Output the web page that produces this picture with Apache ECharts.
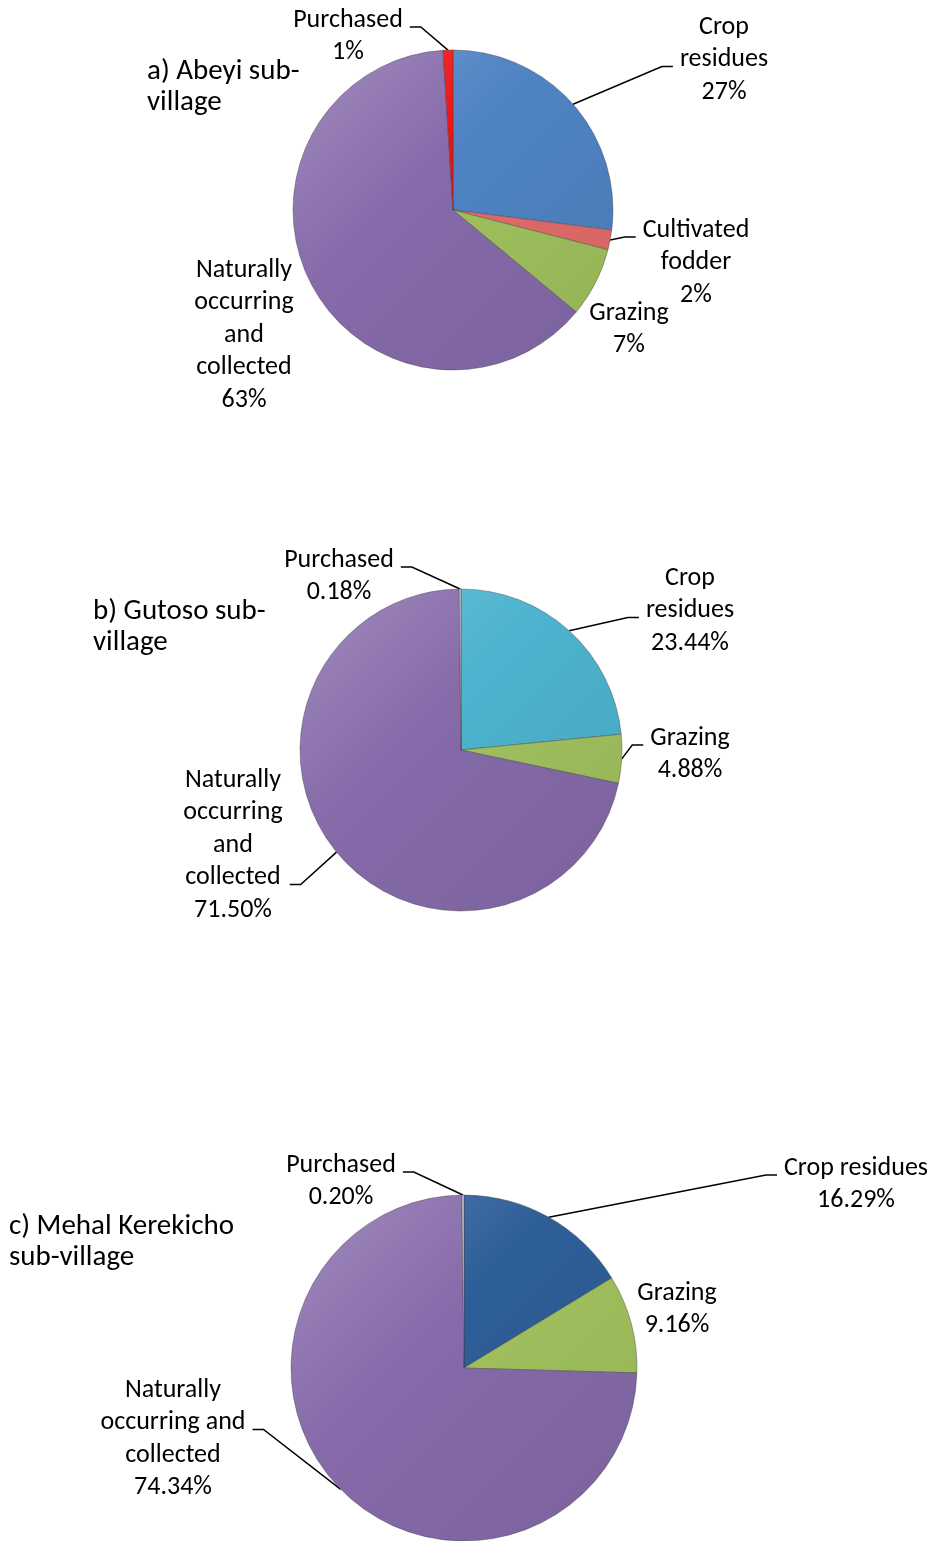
<!DOCTYPE html>
<html>
<head>
<meta charset="utf-8">
<script src="https://cdn.jsdelivr.net/npm/echarts@6/dist/echarts.min.js"></script>
<style>
  html, body { margin: 0; padding: 0; background: #fff; }
  #chart { width: 934px; height: 1541px; }
</style>
</head>
<body>
<div id="chart"></div>
<script>
// share of feed sources (%) per sub-village
const namesA = ['Crop residues', 'Cultivated fodder', 'Grazing', 'Naturally occurring and collected', 'Purchased'];
const valuesA = [27, 2, 7, 63, 1];
const namesB = ['Crop residues', 'Grazing', 'Naturally occurring and collected', 'Purchased'];
const valuesB = [23.44, 4.88, 71.50, 0.18];
const namesC = ['Crop residues', 'Grazing', 'Naturally occurring and collected', 'Purchased'];
const valuesC = [16.29, 9.16, 74.34, 0.20];

// label text as wrapped in the figure
const wrapA = ['Crop\nresidues', 'Cultivated\nfodder', 'Grazing', 'Naturally\noccurring\nand\ncollected', 'Purchased'];
const wrapB = ['Crop\nresidues', 'Grazing', 'Naturally\noccurring\nand\ncollected', 'Purchased'];
const wrapC = ['Crop residues', 'Grazing', 'Naturally\noccurring and\ncollected', 'Purchased'];

const titles = ['a) Abeyi sub-\nvillage', 'b) Gutoso sub-\nvillage', 'c) Mehal Kerekicho\nsub-village'];

const FONT = 'Carlito, Calibri, Lato, sans-serif';
const LINE_H = 32.5;

const colorsA = ['#4F83C4', '#E36C6A', '#A1C15E', '#866AAA', '#EE1111'];
const colorsB = ['#4DB3CE', '#A1C15E', '#866AAA', '#C4C4C4'];
const colorsC = ['#2E5E98', '#A1C15E', '#866AAA', '#C4C4C4'];

// pie geometry
const pies = [
  { center: [453, 210], r: 160 },
  { center: [461, 750], r: 161 },
  { center: [464, 1368], r: 173 }
];

// where each label block sits: centre x, first line centre y,
// which text line the leader attaches to (-1 none) and on which side
const spots = [
  [
    { cx: 724, y0: 27, line: 1, side: 'left' },
    { cx: 696, y0: 230, line: 0, side: 'left' },
    { cx: 629, y0: 313, line: -1 },
    { cx: 244, y0: 270, line: -1 },
    { cx: 348, y0: 20, line: 0, side: 'right' }
  ],
  [
    { cx: 690, y0: 578, line: 1, side: 'left' },
    { cx: 690, y0: 738, line: 0, side: 'left' },
    { cx: 233, y0: 780, line: 3, side: 'right' },
    { cx: 339, y0: 560, line: 0, side: 'right' }
  ],
  [
    { cx: 856, y0: 1168, line: 0, side: 'left' },
    { cx: 677, y0: 1293, line: -1 },
    { cx: 173, y0: 1390, line: 1, side: 'right' },
    { cx: 341, y0: 1165, line: 0, side: 'right' }
  ]
];

function placeLabel(params) {
  const spot = spots[params.seriesIndex][params.dataIndex];
  const out = { x: spot.cx, y: spot.y0 - LINE_H / 2, align: 'center', verticalAlign: 'top' };
  if (spot.line >= 0 && params.labelLinePoints) {
    const w = params.labelRect.width;
    const dir = spot.side === 'left' ? -1 : 1;
    const endX = spot.cx + dir * (w / 2 + 7);
    const ly = spot.y0 + spot.line * LINE_H + 7;
    out.labelLinePoints = [params.labelLinePoints[0], [endX + dir * 11, ly], [endX, ly]];
  }
  return out;
}

// lighten (k>0) or darken (k<0) a hex colour
function shade(hex, k) {
  const n = parseInt(hex.slice(1), 16);
  const ch = [n >> 16, (n >> 8) & 255, n & 255].map(function (c) {
    const v = k > 0 ? c + (255 - c) * k : c * (1 + k);
    return Math.round(Math.max(0, Math.min(255, v)));
  });
  return 'rgb(' + ch.join(',') + ')';
}

// soft bevel look: lighter toward the upper left, darker toward the lower right
function fill(hex, pie) {
  const c = pie.center, r = pie.r;
  return {
    type: 'linear', global: true,
    x: c[0] - r, y: c[1] - r, x2: c[0] + r, y2: c[1] + r,
    colorStops: [
      { offset: 0, color: shade(hex, 0.22) },
      { offset: 0.4, color: hex },
      { offset: 1, color: shade(hex, -0.08) }
    ]
  };
}

function makeData(names, values, wraps, colors, decimals, pie) {
  return values.map(function (v, i) {
    return {
      name: names[i],
      value: v,
      wrap: wraps[i],
      pct: v.toFixed(decimals) + '%',
      itemStyle: { color: fill(colors[i], pie) }
    };
  });
}

function makeSeries(data, pie) {
  return {
    type: 'pie',
    center: pie.center,
    radius: pie.r,
    startAngle: 90,
    clockwise: true,
    avoidLabelOverlap: false,
    silent: true,
    data: data,
    itemStyle: { borderColor: 'rgba(60,60,60,0.5)', borderWidth: 0.8 },
    label: {
      show: true,
      position: 'outside',
      overflow: 'none',
      color: '#000',
      fontFamily: FONT,
      fontSize: 26,
      lineHeight: LINE_H,
      formatter: function (p) { return p.data.wrap + '\n' + p.data.pct; }
    },
    labelLine: { show: true, length: 10, length2: 10, lineStyle: { color: '#000', width: 1.5 } },
    labelLayout: placeLabel
  };
}

const dataA = makeData(namesA, valuesA, wrapA, colorsA, 0, pies[0]);
const dataB = makeData(namesB, valuesB, wrapB, colorsB, 2, pies[1]);
const dataC = makeData(namesC, valuesC, wrapC, colorsC, 2, pies[2]);
// leaders that are not drawn in the figure
[dataA[2], dataA[3], dataC[1]].forEach(function (d) { d.labelLine = { show: false }; });

const chart = echarts.init(document.getElementById('chart'));
chart.setOption({
  backgroundColor: '#fff',
  animation: false,
  title: [
    { text: titles[0], left: 147, top: 56 },
    { text: titles[1], left: 93, top: 596 },
    { text: titles[2], left: 9, top: 1211 }
  ].map(function (t) {
    t.padding = 0;
    t.textStyle = { fontFamily: FONT, fontSize: 29, fontWeight: 'normal', color: '#000', lineHeight: 31 };
    return t;
  }),
  series: [
    makeSeries(dataA, pies[0]),
    makeSeries(dataB, pies[1]),
    makeSeries(dataC, pies[2])
  ]
});
</script>
</body>
</html>
